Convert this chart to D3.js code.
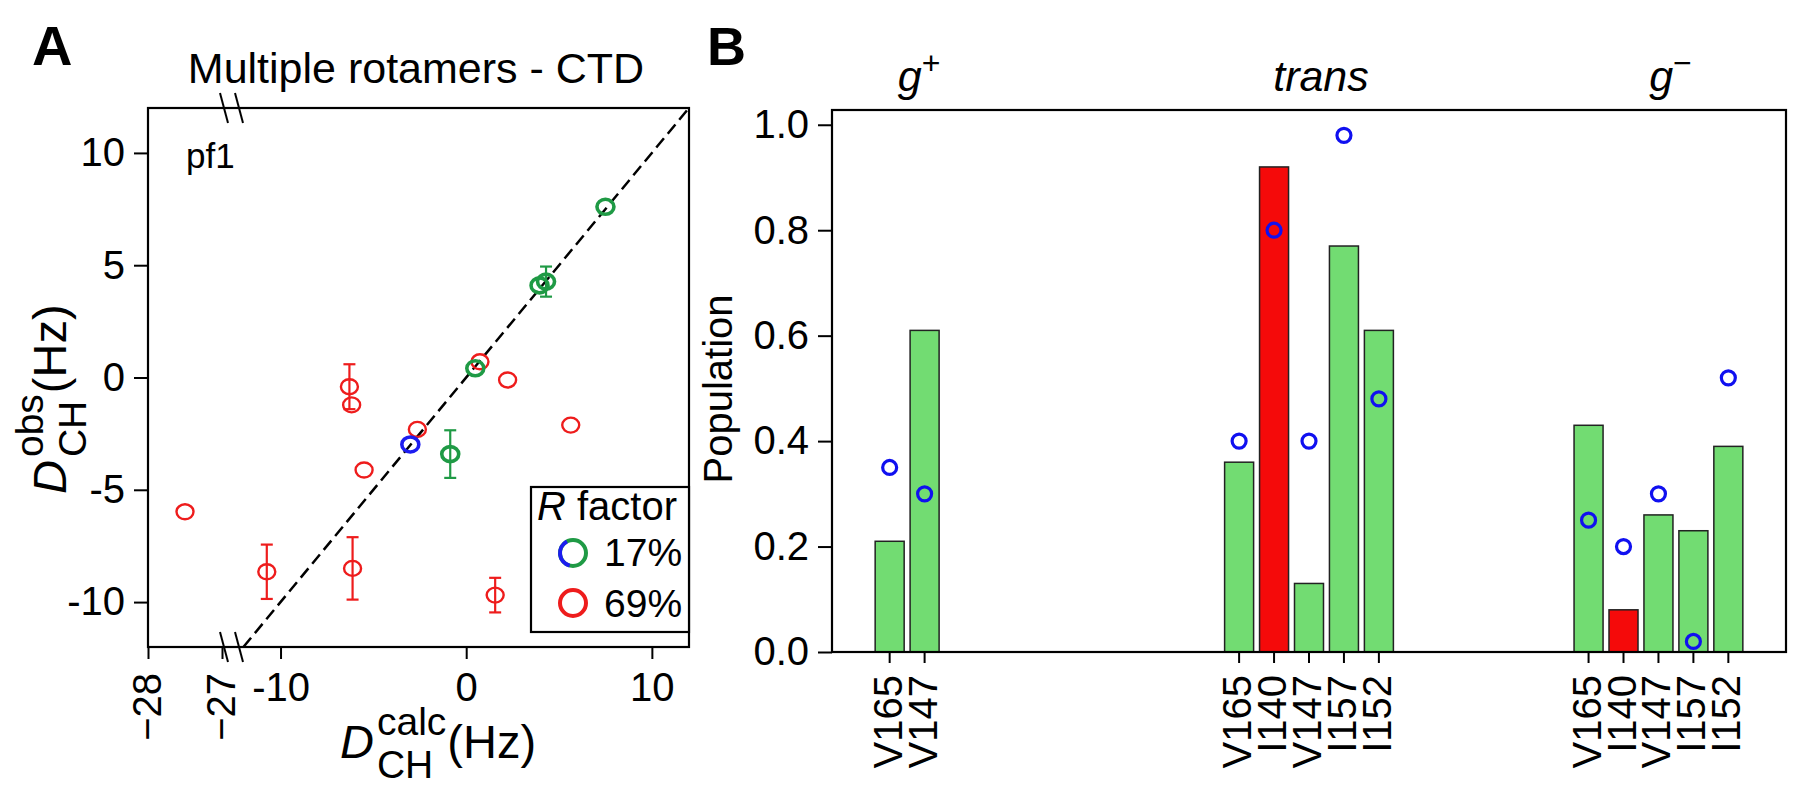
<!DOCTYPE html>
<html>
<head>
<meta charset="utf-8">
<script src="https://cdnjs.cloudflare.com/ajax/libs/d3/7.8.5/d3.min.js"></script>
<style>
  body { margin: 0; background: #fff; }
  text { font-family: "Liberation Sans", Arial, Helvetica, sans-serif; fill: #000; }
</style>
</head>
<body>
<svg id="fig" width="1800" height="796"></svg>
<script>
// ---------- panel A data : D_CH calc vs obs (Hz) ----------
// fit with R factor 17% (green, one residue blue)
const lowCalc  = [7.5, 3.95, 4.3, 0.49, -0.86, -3.01];
const lowObs   = [7.6, 4.1, 4.27, 0.41, -3.41, -2.98];
const lowErr   = [0, 0, 0.67, 0, 1.06, 0];
const lowColor = ["green", "green", "green", "green", "green", "blue"];
// fit with R factor 69% (red)
const highCalc = [0.74, 2.23, -6.29, -6.17, -2.63, 5.63, -5.5, -27.5, -10.74, -6.12, 1.56];
const highObs  = [0.7, -0.11, -0.41, -1.22, -2.31, -2.12, -4.12, -5.98, -8.65, -8.5, -9.69];
const highErr  = [0, 0, 1.0, 0, 0, 0, 0, 0, 1.21, 1.39, 0.77];

const yTicksA = [-10, -5, 0, 5, 10];
const xTicksA = [-10, 0, 10];
const xBreakTicksA = [-28, -27];
const legendA = ["17%", "69%"];

// ---------- panel B data : rotamer populations ----------
const rotamers = ["g+", "trans", "g\u2212"];
const resGplus  = ["V165", "V147"];
const popGplus  = [0.21, 0.61];
const predGplus = [0.35, 0.30];
const resTrans  = ["V165", "I140", "V147", "I157", "I152"];
const popTrans  = [0.36, 0.92, 0.13, 0.77, 0.61];
const predTrans = [0.40, 0.80, 0.40, 0.98, 0.48];
const resGminus  = ["V165", "I140", "V147", "I157", "I152"];
const popGminus  = [0.43, 0.08, 0.26, 0.23, 0.39];
const predGminus = [0.25, 0.20, 0.30, 0.02, 0.52];
const emptySlots = [8, 5];   // empty bar slots between the groups
const yTicksB = [0, 0.2, 0.4, 0.6, 0.8, 1.0];

const col = { green: "#1f9a45", blue: "#1c1cf0", red: "#ee1c1c" };

const svg = d3.select("#fig");

// =============== panel A ===============
const A = { l: 148, r: 689, t: 108, b: 647 };
const xL = d3.scaleLinear().domain([-28, -27]).range([148, 222]);
const xR = d3.scaleLinear().domain([-12, 12]).range([243.4, 689]);
const yA = d3.scaleLinear().domain([-12, 12]).range([A.b, A.t]);
const xA = v => v < -20 ? xL(v) : xR(v);

const gA = svg.append("g");

function styleAxis(g) {
  g.select(".domain").remove();
  g.attr("font-size", 40).attr("font-family", null);
  g.selectAll(".tick line").attr("stroke", "#000").attr("stroke-width", 2);
}

gA.append("g").attr("transform", `translate(0,${A.b})`)
  .call(d3.axisBottom(xR).tickValues(xTicksA).tickSize(12).tickPadding(14)
    .tickFormat(d => d < 0 ? "-" + (-d) : d))
  .call(styleAxis);

gA.append("g").attr("transform", `translate(0,${A.b})`)
  .call(d3.axisBottom(xL).tickValues(xBreakTicksA).tickSize(12)
    .tickFormat(d => "\u2212" + (-d)))
  .call(styleAxis)
  .selectAll("text")
  .attr("transform", "rotate(-90)").attr("x", -26).attr("y", 0)
  .attr("dy", "0.3em").style("text-anchor", "end");

gA.append("g").attr("transform", `translate(${A.l},0)`)
  .call(d3.axisLeft(yA).tickValues(yTicksA).tickSize(14).tickPadding(9)
    .tickFormat(d => d < 0 ? "-" + (-d) : d))
  .call(styleAxis);

gA.append("rect").attr("x", A.l).attr("y", A.t)
  .attr("width", A.r - A.l).attr("height", A.b - A.t)
  .attr("fill", "none").attr("stroke", "#000").attr("stroke-width", 2.2);

// axis break marks
[A.t, A.b].forEach(yy => {
  [224, 239].forEach(xx => {
    gA.append("line").attr("x1", xx - 4).attr("y1", yy - 15).attr("x2", xx + 4).attr("y2", yy + 15)
      .attr("stroke", "#000").attr("stroke-width", 2);
  });
});

// identity line
const ident = [-12, 12];
gA.append("line")
  .attr("x1", xR(ident[0])).attr("y1", yA(ident[0]))
  .attr("x2", xR(ident[1])).attr("y2", yA(ident[1]))
  .attr("stroke", "#000").attr("stroke-width", 2.5).attr("stroke-dasharray", "12,6");

function drawPoints(calc, obs, err, colors, sw) {
  const pts = calc.map((c, i) => ({ c, o: obs[i], e: err[i], k: colors[i] }));
  const eb = gA.append("g").selectAll("g").data(pts.filter(p => p.e > 0)).join("g")
    .attr("stroke", p => col[p.k]).attr("stroke-width", 2.2);
  eb.append("line").attr("x1", p => xA(p.c)).attr("x2", p => xA(p.c))
    .attr("y1", p => yA(p.o - p.e)).attr("y2", p => yA(p.o + p.e));
  [-1, 1].forEach(s => {
    eb.append("line").attr("x1", p => xA(p.c) - 6).attr("x2", p => xA(p.c) + 6)
      .attr("y1", p => yA(p.o + s * p.e)).attr("y2", p => yA(p.o + s * p.e));
  });
  gA.append("g").selectAll("ellipse").data(pts).join("ellipse")
    .attr("cx", p => xA(p.c)).attr("cy", p => yA(p.o))
    .attr("rx", 8.5).attr("ry", 7.5)
    .attr("fill", "none").attr("stroke", p => col[p.k]).attr("stroke-width", sw);
}
drawPoints(highCalc, highObs, highErr, highCalc.map(() => "red"), 2.4);
drawPoints(lowCalc, lowObs, lowErr, lowColor, 3.6);

// texts
svg.append("text").attr("x", 32).attr("y", 65).attr("font-size", 56).attr("font-weight", "bold").text("A");
gA.append("text").attr("x", 416).attr("y", 83).attr("text-anchor", "middle").attr("font-size", 43)
  .text("Multiple rotamers - CTD");
gA.append("text").attr("x", 186).attr("y", 168).attr("font-size", 35).text("pf1");

function dLabel(parent, sup, mainSize, subSize) {
  const d = parent.append("text").attr("font-size", mainSize).attr("font-style", "italic").text("D");
  const w = d.node().getComputedTextLength() + 3;
  const s1 = parent.append("text").attr("x", w).attr("y", -mainSize * 0.5).attr("font-size", subSize).text(sup);
  const s2 = parent.append("text").attr("x", w).attr("y", mainSize * 0.42).attr("font-size", subSize).text("CH");
  const ws = Math.max(s1.node().getComputedTextLength(), s2.node().getComputedTextLength());
  parent.append("text").attr("x", w + ws + 1).attr("font-size", mainSize).text("(Hz)");
}
dLabel(gA.append("g").attr("transform", "translate(340,758)"), "calc", 47, 39);
dLabel(gA.append("g").attr("transform", "translate(66,494) rotate(-90)"), "obs", 47, 39);

// legend
const lg = gA.append("g");
lg.append("rect").attr("x", 531).attr("y", 487).attr("width", 158).attr("height", 145)
  .attr("fill", "#fff").attr("stroke", "#000").attr("stroke-width", 2.2);
const lt = lg.append("text").attr("x", 537).attr("y", 520).attr("font-size", 40);
lt.append("tspan").attr("font-style", "italic").text("R");
lt.append("tspan").text(" factor");
const ringArc = d3.arc().innerRadius(11).outerRadius(15);
const ring = lg.append("g").attr("transform", "translate(573,553)");
ring.append("path").attr("d", ringArc({ startAngle: 0, endAngle: 2 * Math.PI })).attr("fill", col.green);
ring.append("path").attr("d", ringArc({ startAngle: 3.4, endAngle: 5.8 })).attr("fill", col.blue);
lg.append("circle").attr("cx", 573).attr("cy", 603).attr("r", 13)
  .attr("fill", "none").attr("stroke", col.red).attr("stroke-width", 4);
legendA.forEach((t, i) => {
  lg.append("text").attr("x", 604).attr("y", 566 + i * 51).attr("font-size", 39).text(t);
});

// =============== panel B ===============
const B = { l: 832, r: 1786, t: 110, b: 652 };
const groups = [
  { name: rotamers[0], res: resGplus, pop: popGplus, pred: predGplus },
  { name: rotamers[1], res: resTrans, pop: popTrans, pred: predTrans },
  { name: rotamers[2], res: resGminus, pop: popGminus, pred: predGminus }
];
const slots = [];
const bars = [];
groups.forEach((g, gi) => {
  g.keys = g.res.map(r => g.name + ":" + r);
  g.res.forEach((r, i) => {
    slots.push(g.keys[i]);
    bars.push({ key: g.keys[i], res: r, pop: g.pop[i], pred: g.pred[i] });
  });
  if (gi < emptySlots.length) {
    for (let k = 0; k < emptySlots[gi]; k++) slots.push("gap" + gi + "_" + k);
  }
});

const xB = d3.scaleBand().domain(slots).range([B.l, B.r]).paddingInner(0.17).paddingOuter(1.235);
const yB = d3.scaleLinear().domain([0, 1.028]).range([B.b, B.t]);
const gB = svg.append("g");

gB.append("g").selectAll("rect").data(bars).join("rect")
  .attr("x", d => xB(d.key)).attr("width", xB.bandwidth())
  .attr("y", d => yB(d.pop)).attr("height", d => yB(0) - yB(d.pop))
  .attr("fill", d => d.res === "I140" ? "#f50a0a" : "#72dc72")
  .attr("stroke", "#222").attr("stroke-width", 1.5);

gB.append("g").selectAll("circle").data(bars).join("circle")
  .attr("cx", d => xB(d.key) + xB.bandwidth() / 2).attr("cy", d => yB(d.pred))
  .attr("r", 7).attr("fill", "none").attr("stroke", "#1010f0").attr("stroke-width", 3.2);

gB.append("g").attr("transform", `translate(${B.l},0)`)
  .call(d3.axisLeft(yB).tickValues(yTicksB).tickSize(14).tickPadding(9).tickFormat(d3.format(".1f")))
  .call(styleAxis);

const xAxisB = d3.axisBottom(xB).tickValues(bars.map(d => d.key)).tickSize(11)
  .tickFormat(k => k.split(":")[1]);
gB.append("g").attr("transform", `translate(0,${B.b})`)
  .call(xAxisB).call(styleAxis)
  .selectAll("text")
  .attr("transform", "rotate(-90)").attr("x", -23).attr("y", 0)
  .attr("dy", "0.3em").style("text-anchor", "end");

gB.append("rect").attr("x", B.l).attr("y", B.t)
  .attr("width", B.r - B.l).attr("height", B.b - B.t)
  .attr("fill", "none").attr("stroke", "#000").attr("stroke-width", 2.2);

// group labels
groups.forEach(g => {
  const cx = (xB(g.keys[0]) + xB(g.keys[g.keys.length - 1]) + xB.bandwidth()) / 2 + 12;
  const t = gB.append("text").attr("x", cx).attr("y", 91).attr("text-anchor", "middle")
    .attr("font-size", 43).attr("font-style", "italic");
  if (g.name === "trans") {
    t.text("trans");
  } else {
    t.append("tspan").text("g");
    t.append("tspan").attr("font-style", "normal").attr("font-size", 32)
      .attr("dy", -17).text(g.name.slice(1));
  }
});

gB.append("text").attr("transform", "translate(732,389) rotate(-90)")
  .attr("text-anchor", "middle").attr("font-size", 40).text("Population");
svg.append("text").attr("x", 707).attr("y", 65).attr("font-size", 54).attr("font-weight", "bold").text("B");
</script>
</body>
</html>
